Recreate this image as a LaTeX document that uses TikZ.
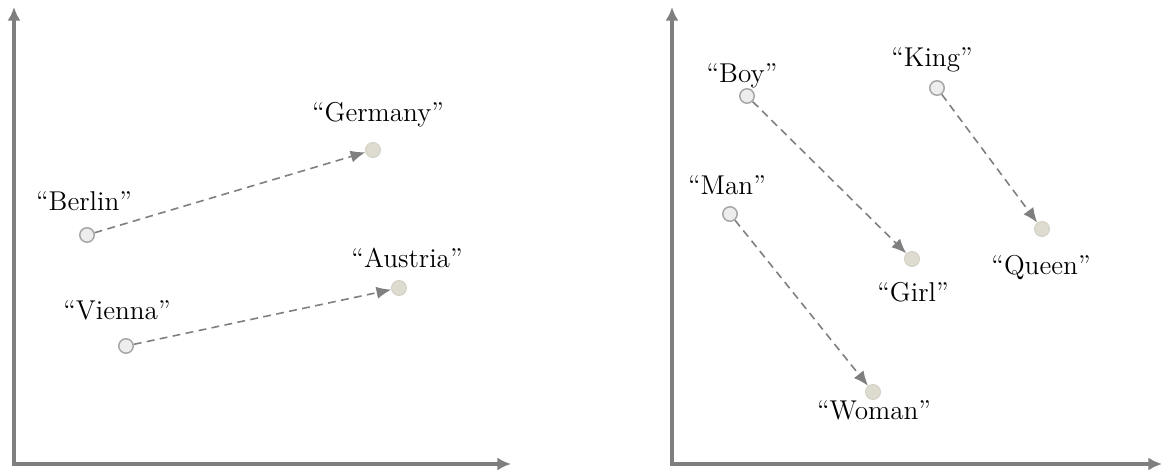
\documentclass[tikz,border=0pt]{standalone}
\usetikzlibrary{arrows.meta}
\definecolor{axisgray}{HTML}{7F7F7F}
\definecolor{srcfill}{HTML}{EDEDED}
\definecolor{srcdraw}{HTML}{A6A6A6}
\definecolor{tgtfill}{HTML}{DEDCD0}
\definecolor{tgtdraw}{HTML}{D2D0C4}
\tikzset{
  axisline/.style={draw=axisgray, line width=1.25pt, -{Latex[length=5.6pt,width=5.4pt]}},
  conn/.style={draw=axisgray, line width=0.65pt, dash pattern=on 3.2pt off 2.2pt, -{Latex[length=6pt,width=5pt]}},
  srcpt/.style={circle, draw=srcdraw, fill=srcfill, line width=0.6pt, minimum size=5.9pt, inner sep=0pt},
  tgtpt/.style={circle, draw=tgtdraw, fill=tgtfill, line width=0.4pt, minimum size=6.1pt, inner sep=0pt},
  lbl/.style={anchor=base, inner sep=0pt, font=\fontsize{11.1}{13}\selectfont}
}
\begin{document}
\begin{tikzpicture}[x=0.408pt, y=-0.408pt]
\useasboundingbox (0,0) rectangle (1163,471);
% axes
\coordinate (o1) at (14,464);
\coordinate (y1) at (14,7);
\coordinate (x1) at (511,464);
\coordinate (o2) at (672,464);
\coordinate (y2) at (672,7);
\coordinate (x2) at (1162,464);
\draw[axisline] ([yshift=-0.62pt]o1) -- (y1);
\draw[axisline] ([xshift=-0.62pt]o1) -- (x1);
\draw[axisline] ([yshift=-0.62pt]o2) -- (y2);
\draw[axisline] ([xshift=-0.62pt]o2) -- (x2);
% left panel points
\node[srcpt] (berlin) at (87,235) {};
\node[tgtpt] (germany) at (373,150) {};
\node[srcpt] (vienna) at (126,346) {};
\node[tgtpt] (austria) at (399,288) {};
% right panel points
\node[srcpt] (boy) at (747,96) {};
\node[tgtpt] (girl) at (912,259) {};
\node[srcpt] (king) at (937,88) {};
\node[tgtpt] (queen) at (1042,229) {};
\node[srcpt] (man) at (730,214) {};
\node[tgtpt] (woman) at (873,392) {};
% labels
\node[lbl] (lberlin) at (84,211) {``Berlin''};
\node[lbl] (lgermany) at (378,122) {``Germany''};
\node[lbl] (lvienna) at (117,320) {``Vienna''};
\node[lbl] (laustria) at (407,268) {``Austria''};
\node[lbl] (lboy) at (742,83) {``Boy''};
\node[lbl] (lking) at (932,67) {``King''};
\node[lbl] (lman) at (727,195) {``Man''};
\node[lbl] (lwoman) at (874,420) {``Woman''};
\node[lbl] (lgirl) at (913,302) {``Girl''};
\node[lbl] (lqueen) at (1041,275) {``Queen''};
% connectors
\draw[conn] (berlin) -- (germany);
\draw[conn] (vienna) -- (austria);
\draw[conn] (boy) -- (girl);
\draw[conn] (king) -- (queen);
\draw[conn] (man) -- (woman);
\end{tikzpicture}
\end{document}
